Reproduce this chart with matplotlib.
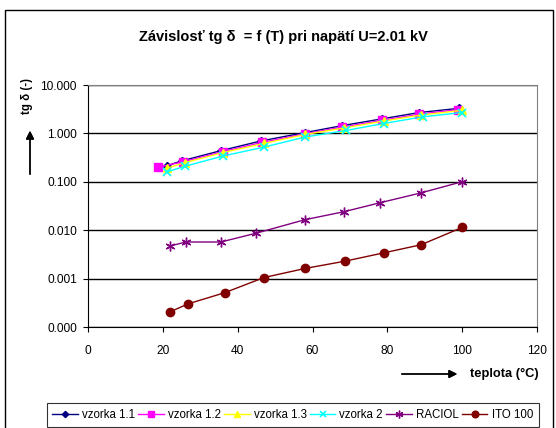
import matplotlib
matplotlib.use("Agg")
import matplotlib.pyplot as plt
from matplotlib.ticker import FixedLocator, FormatStrFormatter, NullLocator
from matplotlib.patches import Rectangle

plt.rcParams['font.family'] = ['Liberation Sans', 'DejaVu Sans']

# data
t_v11 = [21, 25, 35.5, 46.3, 58, 68, 78.6, 88.5, 99.2]
v11 = [0.214, 0.27, 0.44, 0.70, 1.04, 1.45, 2.0, 2.7, 3.3]
t_v12 = [18.7, 25.5, 36, 46.5, 58, 68, 78.5, 88.5, 99]
v12 = [0.199, 0.26, 0.42, 0.65, 0.98, 1.35, 1.85, 2.5, 3.1]
t_v13 = [21, 26, 36, 47, 58, 68.5, 79, 89, 100]
v13 = [0.19, 0.25, 0.40, 0.62, 0.95, 1.3, 1.8, 2.4, 3.0]
t_v2 = [21, 26, 36, 47, 58, 69, 79, 89.5, 100]
v2 = [0.16, 0.21, 0.34, 0.52, 0.84, 1.15, 1.6, 2.2, 2.7]
t_rac = [21.9, 26.1, 35.5, 45, 58, 68.3, 78.1, 89, 99.9]
rac = [0.0047, 0.0057, 0.0057, 0.0087, 0.0165, 0.024, 0.037, 0.059, 0.10]
t_ito = [21.9, 26.7, 36.5, 47, 58, 68.8, 79, 89, 100]
ito = [0.000205, 0.0003, 0.00051, 0.00105, 0.00162, 0.0023, 0.0034, 0.005, 0.0114]

yticks = [1e-4, 1e-3, 1e-2, 1e-1, 1, 10]

W, H = 556, 428
fig = plt.figure(figsize=(W / 100, H / 100), dpi=100)
ax = fig.add_axes([88/W, 1-327/H, (537-88)/W, (327-85)/H])

ax.plot(t_v11, v11, color='#000080', marker='D', ms=4, lw=1, label='vzorka 1.1')
ax.plot(t_v12, v12, color='#FF00FF', marker='s', ms=6, lw=1, label='vzorka 1.2')
ax.plot(t_v13, v13, color='#FFFF00', marker='^', ms=6, lw=1, label='vzorka 1.3')
ax.plot(t_v2, v2, color='#00FFFF', marker='x', ms=6, mew=1.2, lw=1, label='vzorka 2')
ax.plot(t_rac, rac, color='#800080', marker=(6, 2, 0), ms=7, mew=1, lw=1, label='RACIOL')
ax.plot(t_ito, ito, color='#800000', marker='o', ms=6, lw=1, label='ITO 100')

ax.set_yscale('log')
ax.set_ylim(1e-4, 10)
ax.set_xlim(0, 120)
ax.yaxis.set_major_locator(FixedLocator(yticks))
ax.yaxis.set_minor_locator(NullLocator())
ax.yaxis.set_major_formatter(FormatStrFormatter('%.3f'))
ax.set_xticks(range(0, 121, 20))
ax.grid(axis='y', color='black', lw=1)
ax.tick_params(labelsize=8.6, length=3.6, direction='out', color='black')
ax.tick_params(axis='y', pad=4.5)
ax.tick_params(axis='x', pad=9)
ax.spines['top'].set_color('#808080')
ax.spines['right'].set_color('#808080')

fig.text(283/W, 1-37/H, 'Závislosť tg δ  = f (T) pri napätí U=2.01 kV',
         ha='center', va='center', fontsize=10.5, fontweight='bold')
fig.text(27/W, 1-96/H, 'tg δ (-)', rotation=90, ha='center', va='center',
         fontsize=8.3, fontweight='bold')
fig.add_artist(plt.annotate('', xy=(30/W, 1-128/H), xytext=(30/W, 1-177/H),
                            xycoords='figure fraction',
                            arrowprops=dict(arrowstyle='-|>', color='black', lw=1,
                                            mutation_scale=12)))
fig.add_artist(plt.annotate('', xy=(460/W, 1-374/H), xytext=(399/W, 1-374/H),
                            xycoords='figure fraction',
                            arrowprops=dict(arrowstyle='-|>', color='black', lw=1,
                                            mutation_scale=12)))
fig.text(470/W, 1-374/H, 'teplota (°C)', ha='left', va='center',
         fontsize=9.3, fontweight='bold')

leg = fig.legend(loc='upper left', bbox_to_anchor=(46.7/W, 1-403/H), ncol=6,
                 fontsize=8.3, frameon=True, fancybox=False, edgecolor='black',
                 handlelength=2.2, handletextpad=0.35, columnspacing=0.3,
                 borderpad=0.5, borderaxespad=0, markerscale=0.8)
leg.get_frame().set_linewidth(0.8)

fig.add_artist(Rectangle((5/W, -0.01), 548/W, 1-10/H + 0.01,
                         transform=fig.transFigure, fill=False,
                         edgecolor='black', lw=1))

fig.savefig('out.png', dpi=100)
